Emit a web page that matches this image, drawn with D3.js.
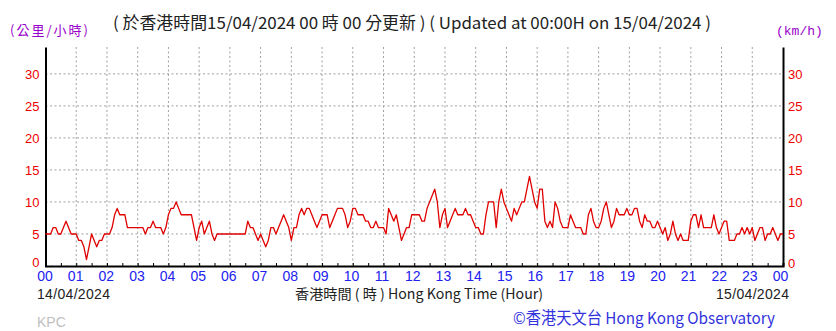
<!DOCTYPE html>
<html>
<head>
<meta charset="utf-8">
<script src="https://cdn.jsdelivr.net/npm/d3@7"></script>
<style>
  body { margin: 0; background: #fff; }
  svg { display: block; font-family: "Liberation Sans", Arial, "Noto Sans CJK TC", sans-serif; }
</style>
</head>
<body>
<svg id="chart" width="836" height="331"></svg>
<script>
const width = 836,
  height = 331;

// 5-minute wind speed readings (km/h), 14/04/2024 00:00 -> 15/04/2024 00:00
const stepMinutes = 5;
const windSpeed = [
  5, 5, 5, 6, 6, 5, 5, 6, 7, 6, 5, 5,      // 00
  5, 4, 4, 3, 1, 3, 5, 4, 3, 4, 4, 5,      // 01
  5, 5, 6, 8, 9, 8, 8, 8, 6, 6, 6, 6,      // 02
  6, 6, 6, 5, 6, 6, 7, 6, 6, 6, 5, 6,      // 03
  8, 9, 9, 10, 9, 8, 8, 8, 8, 8, 6, 4,     // 04
  6, 7, 5, 6, 7, 5, 4, 5, 5, 5, 5, 5,      // 05
  5, 5, 5, 5, 5, 5, 5, 7, 6, 6, 5, 4,      // 06
  5, 4, 3, 4, 6, 6, 5, 6, 7, 8, 7, 6,      // 07
  4, 6, 6, 8, 9, 8, 9, 9, 8, 7, 6, 7,      // 08
  8, 8, 8, 6, 7, 8, 9, 9, 9, 8, 6, 7,      // 09
  9, 9, 8, 8, 8, 7, 7, 6, 6, 7, 6, 6,      // 10
  6, 5, 9, 8, 7, 8, 6, 4, 5, 6, 6, 8,      // 11
  8, 8, 8, 7, 7, 9, 10, 11, 12, 10, 6, 8,  // 12
  9, 6, 7, 8, 9, 8, 8, 8, 9, 8, 8, 7,      // 13
  6, 6, 5, 5, 8, 10, 10, 10, 6, 10, 12, 10,// 14
  9, 8, 7, 9, 8, 9, 10, 10, 12, 14, 12, 10,// 15
  9, 12, 12, 7, 6, 7, 6, 10, 9, 7, 6, 6,   // 16
  6, 8, 7, 6, 6, 6, 5, 5, 8, 9, 7, 6,      // 17
  6, 7, 9, 10, 8, 6, 7, 9, 8, 8, 8, 9,     // 18
  8, 8, 9, 9, 7, 6, 8, 7, 7, 6, 6, 7,      // 19
  6, 5, 6, 4, 5, 7, 5, 4, 5, 4, 4, 4,      // 20
  7, 8, 8, 6, 8, 6, 6, 6, 6, 8, 6, 5,      // 21
  6, 7, 7, 4, 4, 4, 5, 5, 6, 5, 6, 5,      // 22
  6, 4, 5, 6, 6, 4, 5, 5, 6, 5, 4, 5,      // 23
  5
];
const yTicks = [0, 5, 10, 15, 20, 25, 30];
const hourLabels = ["00", "01", "02", "03", "04", "05", "06", "07", "08", "09", "10", "11",
  "12", "13", "14", "15", "16", "17", "18", "19", "20", "21", "22", "23", "00"];

const margin = { left: 45.5, right: 53, top: 47, bottom: 65 };
const svg = d3.select("#chart");

const x = d3.scaleLinear().domain([0, 24]).range([margin.left, width - margin.right]);
const y = d3.scaleLinear().domain([0, 34.2]).range([height - margin.bottom, margin.top]);
// hour labels sit a touch left of the gridlines toward the right end
const xLabel = d3.scaleLinear().domain([0, 24]).range([45, 780.5]);

// grid
const grid = svg.append("g").attr("stroke", "#a0a0a0").attr("stroke-dasharray", "2,2.5").attr("stroke-width", 1);
grid.selectAll("line.v").data(d3.range(1, 24)).join("line")
  .attr("x1", d => x(d)).attr("x2", d => x(d))
  .attr("y1", y.range()[1]).attr("y2", y(0));
grid.selectAll("line.h").data(yTicks.slice(1)).join("line")
  .attr("x1", x(0)).attr("x2", x(24))
  .attr("y1", d => y(d)).attr("y2", d => y(d));

// bottom axis with half hour ticks
const xAxis = d3.axisBottom(x)
  .tickValues(d3.range(0, 24.01, 0.5))
  .tickSize(-3)
  .tickFormat("");
svg.append("g").attr("transform", `translate(0,${y(0)})`).call(xAxis)
  .call(g => g.select(".domain").attr("stroke", "#000").attr("stroke-width", 2))
  .call(g => g.selectAll(".tick line").attr("stroke", "#000"));

// left / right axis lines
const yAxisL = d3.axisLeft(y).tickValues(yTicks).tickSize(0).tickPadding(6).tickFormat(d3.format("d"));
svg.append("g").attr("transform", `translate(${x(0)},0)`).call(yAxisL)
  .call(g => g.select(".domain").attr("stroke", "#000").attr("stroke-width", 2))
  .call(g => g.selectAll("text").attr("fill", "#ee0000").attr("font-size", 13).attr("font-family", "Liberation Sans"))
  .call(g => g.selectAll(".tick").filter(d => d === 0).select("text").attr("dy", "0.05em"));
const yAxisR = d3.axisRight(y).tickValues(yTicks).tickSize(0).tickPadding(5).tickFormat(d3.format("d"));
svg.append("g").attr("transform", `translate(${x(24)},0)`).call(yAxisR)
  .call(g => g.select(".domain").attr("stroke", "#000").attr("stroke-width", 2))
  .call(g => g.selectAll("text").attr("fill", "#ee0000").attr("font-size", 13).attr("font-family", "Liberation Sans"))
  .call(g => g.selectAll(".tick").filter(d => d === 0).select("text").attr("dy", "0.1em"));

// hour labels
svg.append("g").selectAll("text").data(hourLabels).join("text")
  .attr("x", (d, i) => xLabel(i)).attr("y", y(0) + 15)
  .attr("text-anchor", "middle")
  .attr("fill", "#2222ee").attr("font-size", 14)
  .text(d => d);

// wind line
const line = d3.line()
  .x((d, i) => x(i * stepMinutes / 60))
  .y(d => y(d));
svg.append("path").datum(windSpeed)
  .attr("fill", "none").attr("stroke", "#e00000").attr("stroke-width", 1.3)
  .attr("stroke-linejoin", "round")
  .attr("d", line);

// header texts
svg.append("text").attr("x", 10).attr("y", 35)
  .attr("fill", "#9900cc").attr("font-size", 13)
  .attr("font-family", "Noto Sans CJK TC")
  .attr("textLength", 78).attr("lengthAdjust", "spacing")
  .text("(公里/小時)");
svg.append("text").attr("x", 113).attr("y", 29)
  .attr("fill", "#222").attr("font-size", 16.5)
  .attr("font-family", "Noto Sans CJK TC, Liberation Sans")
  .attr("textLength", 598).attr("lengthAdjust", "spacingAndGlyphs")
  .text("( 於香港時間15/04/2024 00 時 00 分更新 ) ( Updated at 00:00H on 15/04/2024 )");
svg.append("text").attr("x", 776).attr("y", 35)
  .attr("fill", "#9900cc").attr("font-size", 13)
  .attr("font-family", "Liberation Mono")
  .text("(km/h)");

// footer texts
svg.append("text").attr("x", 37).attr("y", 299)
  .attr("fill", "#222").attr("font-size", 14)
  .attr("textLength", 73).text("14/04/2024");
svg.append("text").attr("x", 716).attr("y", 299)
  .attr("fill", "#222").attr("font-size", 14)
  .attr("textLength", 73).text("15/04/2024");
svg.append("text").attr("x", 295).attr("y", 299)
  .attr("fill", "#222").attr("font-size", 14)
  .attr("font-family", "Noto Sans CJK TC, Liberation Sans")
  .attr("textLength", 248).attr("lengthAdjust", "spacingAndGlyphs")
  .text("香港時間 ( 時 ) Hong Kong Time (Hour)");
svg.append("text").attr("x", 37).attr("y", 327)
  .attr("fill", "#c0c0c0").attr("font-size", 14).text("KPC");
svg.append("text").attr("x", 513).attr("y", 324)
  .attr("fill", "#3333dd").attr("font-size", 16.5)
  .attr("font-family", "Noto Sans CJK TC, Liberation Sans")
  .attr("textLength", 262).attr("lengthAdjust", "spacingAndGlyphs")
  .text("©香港天文台 Hong Kong Observatory");
</script>
</body>
</html>
